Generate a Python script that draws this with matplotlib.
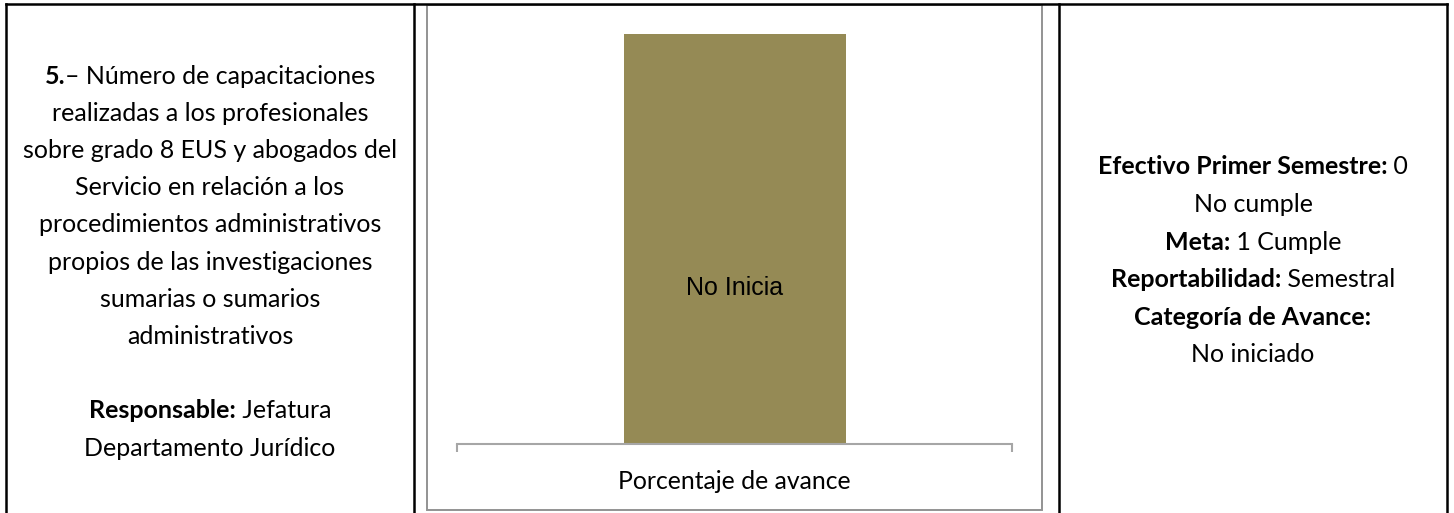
import matplotlib
matplotlib.use('Agg')
import matplotlib.pyplot as plt
from matplotlib.patches import Rectangle
from matplotlib.offsetbox import TextArea, HPacker, AnnotationBbox

W, H, DPI = 1454, 513, 100

# chart data
categories = ['Porcentaje de avance']
values = [100]
bar_labels = ['No Inicia']

# table text, each line is a list of (text, bold?) parts
left_lines = [
    [('5.', True), ('– Número de capacitaciones', False)],
    [('realizadas a los profesionales', False)],
    [('sobre grado 8 EUS y abogados del', False)],
    [('Servicio en relación a los', False)],
    [('procedimientos administrativos', False)],
    [('propios de las investigaciones', False)],
    [('sumarias o sumarios', False)],
    [('administrativos', False)],
    [],
    [('Responsable:', True), (' Jefatura', False)],
    [('Departamento Jurídico', False)],
]
right_lines = [
    [('Efectivo Primer Semestre:', True), (' 0', False)],
    [('No cumple', False)],
    [('Meta:', True), (' 1 Cumple', False)],
    [('Reportabilidad:', True), (' Semestral', False)],
    [('Categoría de Avance:', True)],
    [('No iniciado', False)],
]

BAR = '#958a55'
FRAME = '#939393'
AXIS = '#a6a6a6'
FONT = 'Lato'
TXT_SIZE = 18


def rich_line(ax, x, y, parts):
    if not parts:
        return
    boxes = [TextArea(t, textprops=dict(family=FONT, size=TXT_SIZE, color='black',
                                        weight='bold' if b else 'normal'))
             for t, b in parts]
    pack = HPacker(children=boxes, align='baseline', pad=0, sep=0)
    ab = AnnotationBbox(pack, (x, y), xycoords='data', box_alignment=(0.5, 0.5),
                        frameon=False, pad=0)
    ax.add_artist(ab)


fig = plt.figure(figsize=(W / DPI, H / DPI), dpi=DPI)
fig.patch.set_facecolor('white')

# background layer in pixel coordinates (y down)
bg = fig.add_axes([0, 0, 1, 1])
bg.set_xlim(0, W)
bg.set_ylim(H, 0)
bg.axis('off')

# table borders
lw_tab = 1.8
bg.plot([6, 1447], [4, 4], color='black', lw=lw_tab, solid_capstyle='projecting')
for xv in [6, 414, 1059, 1447]:
    bg.plot([xv, xv], [4, H], color='black', lw=lw_tab)

# chart frame
bg.add_patch(Rectangle((427, 5), 1042 - 427, 510 - 5, fill=False,
                       edgecolor=FRAME, lw=1.4))

# text cells
for i, parts in enumerate(left_lines):
    rich_line(bg, 210, 76 + 37.2 * i, parts)
for i, parts in enumerate(right_lines):
    rich_line(bg, 1253, 167 + 37.6 * i, parts)

# bar chart
ax = fig.add_axes([457 / W, (H - 444) / H, (1012 - 457) / W, (444 - 34) / H])
ax.patch.set_alpha(0)
x = list(range(len(categories)))
bars = ax.bar(x, values, width=0.4, color=BAR, zorder=2)
ax.set_xlim(-0.5, len(categories) - 0.5)
ax.set_ylim(0, max(values))
for sp in ['left', 'top', 'right']:
    ax.spines[sp].set_visible(False)
ax.spines['bottom'].set_color(AXIS)
ax.spines['bottom'].set_linewidth(1.5)
ax.set_yticks([])
ax.set_xticks(x)
ax.set_xticklabels(categories, family=FONT, fontsize=17.8, color='black')
ax.tick_params(axis='x', which='major', length=0, pad=19)
ax.set_xticks([-0.5, len(categories) - 0.5], minor=True)
ax.tick_params(axis='x', which='minor', length=6, width=1.5, color=AXIS,
               direction='out')

# label sits a bit below the middle of the bar, like the Excel original
for b, lab in zip(bars, bar_labels):
    ax.text(b.get_x() + b.get_width() / 2, b.get_height() * 0.38, lab,
            ha='center', va='center', family='Liberation Sans', fontsize=18,
            color='black')

fig.savefig('out.png', dpi=DPI, facecolor='white')
